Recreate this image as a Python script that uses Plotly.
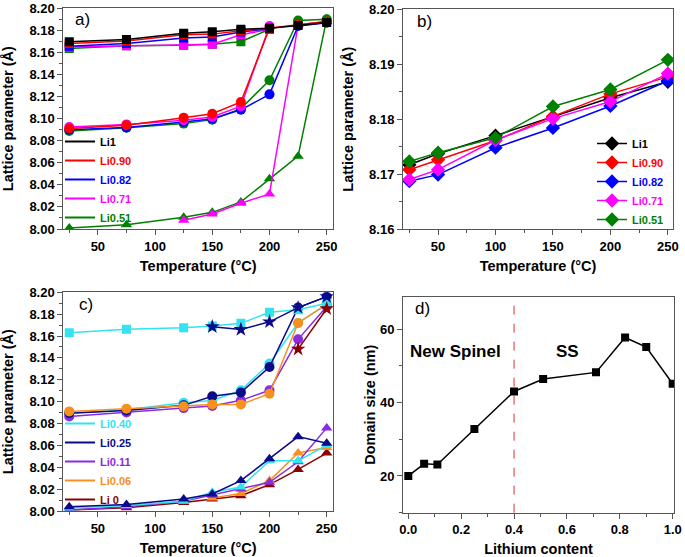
import plotly.graph_objects as go

# ---------------- data ----------------
# panel a
T_a = [25, 75, 125, 150, 175, 200, 225, 250]
a_li1_sq   = [8.1696, 8.1718, 8.1773, 8.1787, 8.1810, 8.1820, 8.1845, 8.1872]
a_li090_sq = [8.1680, 8.1703, 8.1760, 8.1766, 8.1797, 8.1818, None, None]
a_li090_ci = [8.0910, 8.0940, 8.1009, 8.1045, 8.1151, 8.1820, 8.1850, 8.1880]
a_li082_sq = [8.1657, 8.1680, 8.1730, 8.1740, 8.1785, 8.1815, None, None]
a_li082_ci = [8.0900, 8.0920, 8.0970, 8.1000, 8.1080, 8.1220, 8.1840, 8.1870]
a_li071_sq = [8.1650, 8.1660, 8.1666, 8.1675, 8.1760, 8.1810, None, None]
a_li071_ci = [8.0924, 8.0948, 8.0985, 8.1015, 8.1112, 8.1840, None, None]
a_li071_tr = [None, None, 8.0080, 8.0136, 8.0233, 8.0318, 8.1850, 8.1880]
a_li051_sq = [8.1636, 8.1660, 8.1666, 8.1675, 8.1697, 8.1810, None, None]
a_li051_ci = [8.0889, 8.0918, 8.0955, 8.0991, 8.1091, 8.1348, 8.1890, 8.1900]
a_li051_tr = [8.0009, 8.0039, 8.0106, 8.0151, 8.0245, 8.0455, 8.0660, 8.1905]

# panel b
T_b = [25, 50, 100, 150, 200, 250]
b_li1   = [8.1717, 8.1737, 8.1770, 8.1804, 8.1839, 8.1868]
b_li090 = [8.1708, 8.1726, 8.1761, 8.1805, 8.1846, 8.1877]
b_li082 = [8.1687, 8.1699, 8.1748, 8.1784, 8.1824, 8.1870]
b_li071 = [8.1690, 8.1708, 8.1762, 8.1801, 8.1832, 8.1883]
b_li051 = [8.1723, 8.1739, 8.1766, 8.1823, 8.1854, 8.1908]

# panel c
T_c = [25, 75, 125, 150, 175, 200, 225, 250]
c_li040_sq = [8.1629, 8.1663, 8.1675, 8.1691, 8.1716, 8.1817, 8.1840, 8.1900]
c_li040_ci = [8.0895, 8.0925, 8.0990, 8.1010, 8.1104, 8.1349, 8.1720, 8.1890]
c_li040_tr = [8.0027, 8.0050, 8.0090, 8.0171, 8.0220, 8.0460, 8.0460, 8.0600]
c_li025_st = [None, None, None, 8.1685, 8.1660, 8.1730, 8.1860, 8.1960]
c_li025_ci = [8.0895, 8.0920, 8.0966, 8.1049, 8.1083, 8.1317, 8.1860, 8.1960]
c_li025_tr = [8.0040, 8.0060, 8.0110, 8.0156, 8.0278, 8.0477, 8.0680, 8.0620]
c_li011_ci = [8.0865, 8.0900, 8.0941, 8.0960, 8.1012, 8.1104, 8.1570, 8.1870]
c_li011_tr = [8.0010, 8.0040, 8.0090, 8.0145, 8.0202, 8.0262, 8.0450, 8.0760]
c_li006_ci = [8.0911, 8.0936, 8.0957, 8.0975, 8.0975, 8.1073, 8.1720, 8.1890]
c_li006_tr = [None, None, None, 8.0120, 8.0160, 8.0278, 8.0530, 8.0580]
c_li0_tr   = [8.0009, 8.0030, 8.0077, 8.0110, 8.0140, 8.0241, 8.0380, 8.0530]
c_li0_st   = [None, None, None, None, None, None, 8.1480, 8.1850]

# panel d
d_li = [0.0, 0.06, 0.11, 0.25, 0.40, 0.51, 0.71, 0.82, 0.90, 1.0]
d_size = [20.0, 23.3, 23.1, 32.8, 43.0, 46.4, 48.2, 57.7, 55.1, 45.1]

names_a = ["Li1", "Li0.90", "Li0.82", "Li0.71", "Li0.51"]
names_c = ["Li0.40", "Li0.25", "Li0.11", "Li0.06", "Li 0"]

# ---------------- styles ----------------
W, H = 685, 557
FONT = "Liberation Sans"
BLACK, RED, BLUE, MAG, GRN = "#000000", "#FF0000", "#0000FF", "#FF00FF", "#008000"
CYAN, NAVY, PURP, ORNG, DRED = "#33E3F0", "#0A0A8A", "#8A2BE2", "#F7901E", "#8B0000"
cols_a = [BLACK, RED, BLUE, MAG, GRN]
cols_c = [CYAN, NAVY, PURP, ORNG, DRED]

fig = go.Figure()


def add(x, y, color, symbol, size, xa, ya):
    fig.add_trace(go.Scatter(x=x, y=y, mode="lines+markers",
                             line=dict(color=color, width=1.5),
                             marker=dict(symbol=symbol, size=size, color=color),
                             xaxis=xa, yaxis=ya, showlegend=False, hoverinfo="x+y"))


# panel a
add(T_a, a_li051_tr, GRN, "triangle-up", 10, "x", "y")
add(T_a, a_li071_tr, MAG, "triangle-up", 10, "x", "y")
add(T_a, a_li051_ci, GRN, "circle", 10, "x", "y")
add(T_a, a_li082_ci, BLUE, "circle", 10, "x", "y")
add(T_a, a_li071_ci, MAG, "circle", 10, "x", "y")
add(T_a, a_li090_ci, RED, "circle", 10, "x", "y")
add(T_a, a_li051_sq, GRN, "square", 9, "x", "y")
add(T_a, a_li071_sq, MAG, "square", 9, "x", "y")
add(T_a, a_li082_sq, BLUE, "square", 9, "x", "y")
add(T_a, a_li090_sq, RED, "square", 9, "x", "y")
add(T_a, a_li1_sq, BLACK, "square", 9, "x", "y")
for n, c in zip(names_a, cols_a):
    fig.add_trace(go.Scatter(x=[None], y=[None], mode="lines", line=dict(color=c, width=2),
                             name=f'<span style="color:{c}">{n}</span>',
                             xaxis="x", yaxis="y", legend="legend", showlegend=True))

# panel b
for n, c, y in zip(names_a, cols_a, [b_li1, b_li090, b_li082, b_li071, b_li051]):
    fig.add_trace(go.Scatter(x=T_b, y=y, mode="lines+markers",
                             line=dict(color=c, width=1.5),
                             marker=dict(symbol="diamond", size=11, color=c),
                             name=f'<span style="color:{c}">{n}</span>',
                             xaxis="x2", yaxis="y2", legend="legend2", showlegend=True))

# panel c
add(T_c, c_li0_tr, DRED, "triangle-up", 10, "x3", "y3")
add(T_c, c_li006_tr, ORNG, "triangle-up", 10, "x3", "y3")
add(T_c, c_li011_tr, PURP, "triangle-up", 10, "x3", "y3")
add(T_c, c_li040_tr, CYAN, "triangle-up", 10, "x3", "y3")
add(T_c, c_li025_tr, NAVY, "triangle-up", 10, "x3", "y3")
add(T_c, c_li011_ci, PURP, "circle", 10, "x3", "y3")
add(T_c, c_li040_ci, CYAN, "circle", 10, "x3", "y3")
add(T_c, c_li025_ci, NAVY, "circle", 10, "x3", "y3")
add(T_c, c_li006_ci, ORNG, "circle", 10, "x3", "y3")
add(T_c, c_li040_sq, CYAN, "square", 9, "x3", "y3")
add(T_c, c_li025_st, NAVY, "star", 11, "x3", "y3")
add(T_c, c_li0_st, DRED, "star", 11, "x3", "y3")
for n, c in zip(names_c, cols_c):
    fig.add_trace(go.Scatter(x=[None], y=[None], mode="lines", line=dict(color=c, width=2),
                             name=f'<span style="color:{c}">{n}</span>',
                             xaxis="x3", yaxis="y3", legend="legend3", showlegend=True))

# panel d
fig.add_trace(go.Scatter(x=d_li, y=d_size, mode="lines+markers",
                         line=dict(color="black", width=1.5),
                         marker=dict(symbol="square", size=8, color="black"),
                         xaxis="x4", yaxis="y4", showlegend=False))

# ---------------- layout ----------------
AX = "#555555"
tickfont = dict(family=FONT, size=13, color="black", weight="bold")
titlefont = dict(family=FONT, size=14.5, color="black", weight="bold")


def axis(domain, rng, dtick, minor, title, anchor, fmt=None, tick0=0, standoff=8):
    d = dict(domain=domain, range=rng, tickmode="linear", tick0=tick0, dtick=dtick,
             showline=True, linecolor=AX, linewidth=1, mirror=True, automargin=False,
             ticks="outside", ticklen=5, tickwidth=1, tickcolor=AX,
             minor=dict(dtick=minor, tick0=tick0, ticks="outside", ticklen=3, tickwidth=1, tickcolor=AX),
             showgrid=False, zeroline=False, tickfont=tickfont, anchor=anchor,
             title=dict(text=title, font=titlefont, standoff=standoff))
    if fmt:
        d["tickformat"] = fmt
    return d


def fx(l, r):
    return [l / W, r / W]


def fy(top, bot):
    return [1 - bot / H, 1 - top / H]


legend_common = dict(xanchor="left", yanchor="top", bgcolor="rgba(0,0,0,0)",
                     font=dict(family=FONT, size=11, weight="bold"), itemwidth=30)

fig.update_layout(
    template="none",
    width=W, height=H, margin=dict(l=0, r=0, t=0, b=0, autoexpand=False),
    plot_bgcolor="white", paper_bgcolor="white",
    xaxis=axis(fx(63.3, 333), [19.8, 255.5], 50, 25, "Temperature (°C)", "y"),
    yaxis=axis(fy(8.3, 229), [8.0, 8.2], 0.02, 0.01, "Lattice parameter (Å)", "x", ".2f", 8.0, 12),
    xaxis2=axis(fx(403, 673), [19.5, 254.5], 50, 25, "Temperature (°C)", "y2"),
    yaxis2=axis(fy(9.3, 229), [8.16, 8.20], 0.01, 0.005, "Lattice parameter (Å)", "x2", ".2f", 8.16, 12),
    xaxis3=axis(fx(63.3, 333), [19.8, 255.5], 50, 25, "Temperature (°C)", "y3"),
    yaxis3=axis(fy(292.3, 511), [8.0, 8.2], 0.02, 0.01, "Lattice parameter (Å)", "x3", ".2f", 8.0, 12),
    xaxis4=axis(fx(403, 674), [-0.02, 1.005], 0.2, 0.1, "Lithium content", "y4", ".1f"),
    yaxis4=axis(fy(296.7, 512.7), [10, 68.8], 20, 10, "Domain size (nm)", "x4", None, 0, 0),
    legend=dict(x=60 / W, y=1 - 127 / H, **legend_common),
    legend2=dict(x=592 / W, y=1 - 129 / H, **legend_common),
    legend3=dict(x=60 / W, y=1 - 409 / H, **legend_common),
)

lab = dict(family=FONT, size=17, color="black")
for ref, x, y, t in [("x", 0.036, 1.0, "a)"), ("x2", 0.044, 0.995, "b)"),
                     ("x3", 0.051, 0.997, "c)"), ("x4", 0.037, 1.0, "d)")]:
    yr = {"x": "y", "x2": "y2", "x3": "y3", "x4": "y4"}[ref]
    fig.add_annotation(x=x, y=y, xref=f"{ref} domain", yref=f"{yr} domain", text=t,
                       showarrow=False, xanchor="left", yanchor="top", font=lab)

fig.add_annotation(x=0.177, y=53.9, xref="x4", yref="y4", text="New Spinel", showarrow=False,
                   font=dict(family=FONT, size=17, color="black", weight="bold"))
fig.add_annotation(x=0.603, y=53.9, xref="x4", yref="y4", text="SS", showarrow=False,
                   font=dict(family=FONT, size=17, color="black", weight="bold"))
fig.add_shape(type="line", x0=0.4, x1=0.4, y0=0, y1=1, xref="x4", yref="y4 domain",
              line=dict(color="#E03030", width=1, dash="dash"))

fig.write_html("out.html", config={"displayModeBar": False},
               post_script="document.body.style.margin='0px';")
